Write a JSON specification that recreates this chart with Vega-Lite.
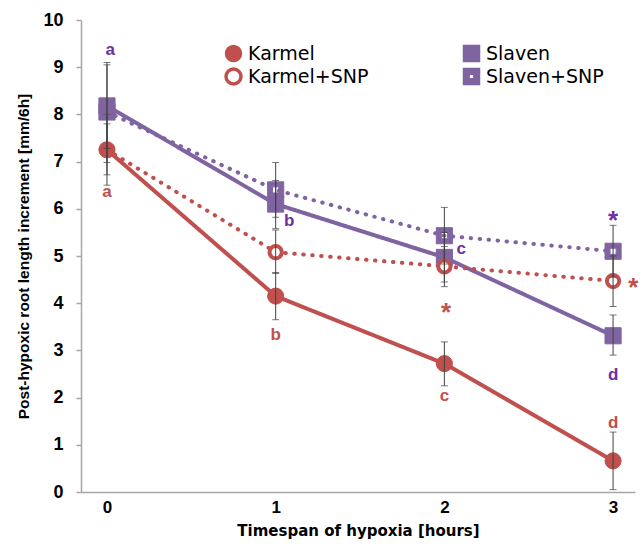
{
  "$schema": "https://vega.github.io/schema/vega-lite/v6.json",
  "width": 554,
  "height": 472,
  "autosize": "none",
  "padding": {"left": 81, "top": 20, "right": 8, "bottom": 55},
  "background": "white",
  "config": {
    "view": {"stroke": null},
    "font": "Liberation Sans"
  },
  "datasets": {
    "pts": [
      {"series": "Slaven", "treatment": "control", "time": 0, "value": 8.18, "lo": 7.28, "hi": 9.05},
      {"series": "Slaven", "treatment": "control", "time": 1, "value": 6.1, "lo": 5.58, "hi": 6.6},
      {"series": "Slaven", "treatment": "control", "time": 2, "value": 4.97, "lo": 4.45, "hi": 5.5},
      {"series": "Slaven", "treatment": "control", "time": 3, "value": 3.31, "lo": 2.9, "hi": 3.75},
      {"series": "Slaven+SNP", "treatment": "SNP", "time": 0, "value": 8.05, "lo": 6.98, "hi": 9.1},
      {"series": "Slaven+SNP", "treatment": "SNP", "time": 1, "value": 6.4, "lo": 5.82, "hi": 6.98},
      {"series": "Slaven+SNP", "treatment": "SNP", "time": 2, "value": 5.43, "lo": 4.83, "hi": 6.03},
      {"series": "Slaven+SNP", "treatment": "SNP", "time": 3, "value": 5.1, "lo": 4.55, "hi": 5.65},
      {"series": "Karmel+SNP", "treatment": "SNP", "time": 0, "value": 7.25, "lo": 6.72, "hi": 7.8},
      {"series": "Karmel+SNP", "treatment": "SNP", "time": 1, "value": 5.08, "lo": 4.63, "hi": 5.55},
      {"series": "Karmel+SNP", "treatment": "SNP", "time": 2, "value": 4.78, "lo": 4.35, "hi": 5.2},
      {"series": "Karmel+SNP", "treatment": "SNP", "time": 3, "value": 4.47, "lo": 3.93, "hi": 5.0},
      {"series": "Karmel", "treatment": "control", "time": 0, "value": 7.25, "lo": 6.5, "hi": 8.0},
      {"series": "Karmel", "treatment": "control", "time": 1, "value": 4.15, "lo": 3.65, "hi": 4.65},
      {"series": "Karmel", "treatment": "control", "time": 2, "value": 2.72, "lo": 2.25, "hi": 3.18},
      {"series": "Karmel", "treatment": "control", "time": 3, "value": 0.66, "lo": 0.05, "hi": 1.27}
    ],
    "notes": [
      {"group": "Slaven", "time": 0.02, "value": 9.36, "label": "a", "kind": "letter"},
      {"group": "Karmel", "time": 0.0, "value": 6.35, "label": "a", "kind": "letter"},
      {"group": "Slaven", "time": 1.08, "value": 5.75, "label": "b", "kind": "letter"},
      {"group": "Karmel", "time": 1.0, "value": 3.33, "label": "b", "kind": "letter"},
      {"group": "Slaven", "time": 2.1, "value": 5.14, "label": "c", "kind": "letter"},
      {"group": "Karmel", "time": 2.0, "value": 2.04, "label": "c", "kind": "letter"},
      {"group": "Slaven", "time": 3.0, "value": 2.48, "label": "d", "kind": "letter"},
      {"group": "Karmel", "time": 3.0, "value": 1.47, "label": "d", "kind": "letter"},
      {"group": "Karmel", "time": 2.01, "value": 3.8, "label": "*", "kind": "star"},
      {"group": "Slaven", "time": 3.0, "value": 5.75, "label": "*", "kind": "star"},
      {"group": "Karmel", "time": 3.12, "value": 4.33, "label": "*", "kind": "star"}
    ]
  },
  "layer": [
    {
      "data": {"name": "pts"},
      "mark": {"type": "line", "strokeWidth": 4, "strokeCap": "round"},
      "encoding": {
        "x": {"field": "time", "type": "quantitative", "scale": {"domain": [-0.154, 3.13], "nice": false, "zero": false},
          "axis": {"values": [0, 1, 2, 3], "format": "d", "ticks": false, "grid": false, "domainColor": "#a6a6a6", "domainWidth": 1.5,
            "labelFont": "Liberation Sans", "labelFontWeight": "bold", "labelFontSize": 17, "labelColor": "black", "labelPadding": 7,
            "titleFont": "DejaVu Sans", "titleFontWeight": "bold", "titleFontSize": 15, "titleColor": "black", "titlePadding": 8},
          "title": "Timespan of hypoxia [hours]"},
        "y": {"field": "value", "type": "quantitative", "scale": {"domain": [0, 10], "nice": false},
          "title": "Post-hypoxic root length increment  [mm/6h]",
          "axis": {"values": [0, 1, 2, 3, 4, 5, 6, 7, 8, 9, 10], "grid": false, "domainColor": "#a6a6a6", "domainWidth": 1.5, "tickColor": "#a6a6a6", "tickWidth": 1.5, "tickSize": 5,
            "labelFont": "Liberation Sans", "labelFontWeight": "bold", "labelFontSize": 18, "labelColor": "black", "labelPadding": 13,
            "titleFont": "Liberation Sans", "titleFontWeight": "bold", "titleFontSize": 15.5, "titleColor": "black", "titlePadding": 11}},
        "detail": {"field": "series"},
        "stroke": {"field": "series", "type": "nominal",
          "scale": {"domain": ["Karmel", "Karmel+SNP", "Slaven", "Slaven+SNP"], "range": ["#C0504D", "#C0504D", "#8064A2", "#8064A2"]},
          "legend": {
            "orient": "none", "legendX": 143, "legendY": 24, "columns": 2, "columnPadding": 90, "rowPadding": -4,
            "title": null, "labelFont": "DejaVu Sans", "labelFontSize": 19, "labelColor": "black", "labelOffset": 5,
            "symbolSize": 225, "symbolStrokeWidth": 3, "symbolOpacity": 1,
            "encoding": {"symbols": {
              "shape": {"value": {"expr": "datum.value === 'Karmel' ? 'M-1.75,0H1.75M1,0A1,1 0 1,1 -1,0A1,1 0 1,1 1,0Z' : datum.value === 'Karmel+SNP' ? 'M-1.75,0H-1M1,0H1.75M1,0A1,1 0 1,1 -1,0A1,1 0 1,1 1,0Z' : datum.value === 'Slaven' ? 'M-1.6,0H1.6M-0.9,-0.9H0.9V0.9H-0.9Z' : 'M-1.6,0H-0.9M0.9,0H1.6M-0.9,-0.9H0.9V0.9H-0.9Z M-0.4,-0.4V0.4H0.4V-0.4Z'"}},
              "fill": {"value": {"expr": "datum.value === 'Karmel+SNP' ? '#ffffff' : (datum.value === 'Karmel' ? '#C0504D' : '#8064A2')"}},
              "stroke": {"value": {"expr": "indexof(datum.value, 'Karmel') >= 0 ? '#C0504D' : '#8064A2'"}},
              "strokeWidth": {"value": {"expr": "datum.value === 'Karmel+SNP' ? 3.5 : 2.5"}}
            }}
          }},
        "strokeDash": {"field": "treatment", "type": "nominal",
          "scale": {"domain": ["control", "SNP"], "range": [[1, 0], [0.5, 8.5]]},
          "legend": null}
      }
    },
    {
      "data": {"name": "pts"},
      "mark": {"type": "point", "filled": false, "opacity": 1},
      "encoding": {
        "x": {"field": "time", "type": "quantitative"},
        "y": {"field": "value", "type": "quantitative"},
        "stroke": {"field": "series", "type": "nominal"},
        "fill": {"field": "series", "type": "nominal",
          "scale": {"domain": ["Karmel", "Karmel+SNP", "Slaven", "Slaven+SNP"], "range": ["#C0504D", "#FFFFFF", "#8064A2", "#8064A2"]},
          "legend": null},
        "shape": {"field": "series", "type": "nominal",
          "scale": {"domain": ["Karmel", "Karmel+SNP", "Slaven", "Slaven+SNP"], "range": ["circle", "circle", "square", "M-1,-1H1V1H-1Z M-0.38,-0.38V0.38H0.38V-0.38Z"]},
          "legend": null},
        "size": {"condition": {"test": "datum.series === 'Karmel+SNP'", "value": 150}, "value": 260},
        "strokeWidth": {"condition": {"test": "datum.series === 'Karmel+SNP'", "value": 4}, "value": 1}
      }
    },
    {
      "data": {"name": "pts"},
      "mark": {"type": "errorbar", "ticks": {"size": 7, "color": "#404040", "thickness": 1}, "rule": {"color": "#404040", "strokeWidth": 1}},
      "encoding": {
        "x": {"field": "time", "type": "quantitative"},
        "y": {"field": "lo", "type": "quantitative", "title": "Post-hypoxic root length increment  [mm/6h]"},
        "y2": {"field": "hi"}
      }
    },
    {
      "data": {"name": "notes"},
      "transform": [{"filter": "datum.kind === 'letter'"}],
      "mark": {"type": "text", "font": "Liberation Sans", "fontWeight": "bold", "fontSize": 17, "baseline": "middle", "align": "center"},
      "encoding": {
        "x": {"field": "time", "type": "quantitative"},
        "y": {"field": "value", "type": "quantitative"},
        "text": {"field": "label"},
        "color": {"field": "group", "type": "nominal", "scale": {"domain": ["Karmel", "Slaven"], "range": ["#C0504D", "#7030A0"]}, "legend": null}
      }
    },
    {
      "data": {"name": "notes"},
      "transform": [{"filter": "datum.kind === 'star'"}],
      "mark": {"type": "text", "font": "Liberation Sans", "fontWeight": "bold", "fontSize": 26, "baseline": "middle", "align": "center"},
      "encoding": {
        "x": {"field": "time", "type": "quantitative"},
        "y": {"field": "value", "type": "quantitative"},
        "text": {"field": "label"},
        "color": {"field": "group", "type": "nominal", "legend": null}
      }
    }
  ]
}
